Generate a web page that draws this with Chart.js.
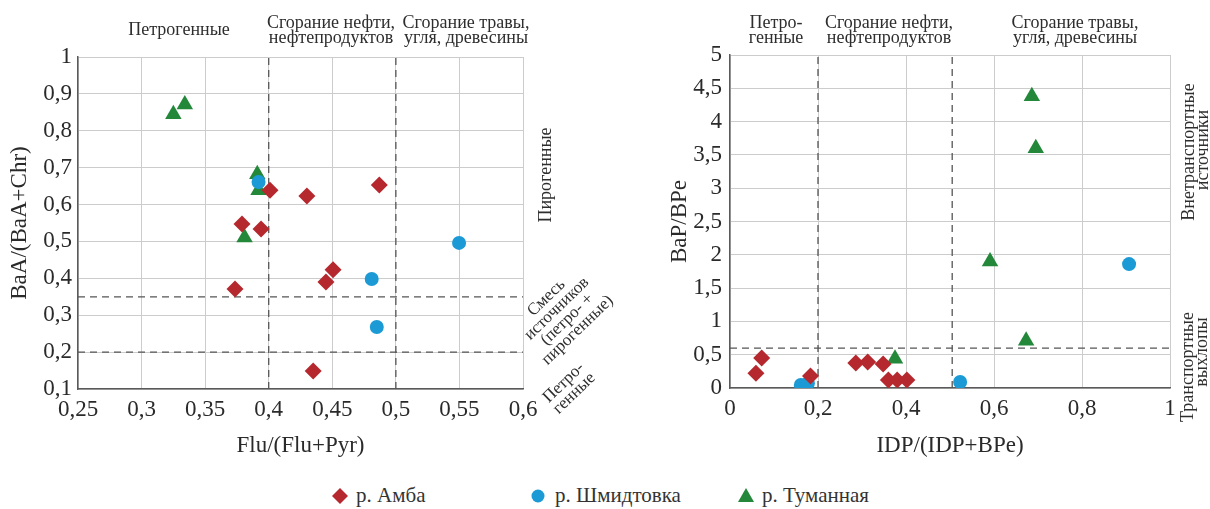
<!DOCTYPE html>
<html>
<head>
<meta charset="utf-8">
<script src="https://cdn.jsdelivr.net/npm/chart.js@4.4.1/dist/chart.umd.min.js"></script>
<style>
html,body{margin:0;padding:0;background:#fff;width:1210px;height:509px;overflow:hidden;font-family:"Liberation Serif",serif;}
#c1{position:absolute;left:0;top:0;z-index:2;}
#c2{position:absolute;left:600px;top:0;z-index:1;}
.lg{position:absolute;top:482px;height:26px;line-height:26px;font-size:21px;color:#333;white-space:nowrap;}
.lg svg{position:absolute;top:6px;}
.lg span{position:absolute;left:0;top:0;}
</style>
</head>
<body>
<canvas id="c1" width="640" height="470"></canvas>
<canvas id="c2" width="610" height="470"></canvas>
<div class="lg" style="left:332px;width:120px"><svg width="16" height="16" viewBox="0 0 16 16" style="left:0"><polygon points="8,0 16,8 8,16 0,8" fill="#b5282e"/></svg><span style="left:24px">р. Амба</span></div>
<div class="lg" style="left:531px;width:180px"><svg width="14" height="14" viewBox="0 0 14 14" style="left:0;top:7px"><circle cx="7" cy="7" r="6.5" fill="#1b9ad6"/></svg><span style="left:24px">р. Шмидтовка</span></div>
<div class="lg" style="left:738px;width:160px"><svg width="16" height="14" viewBox="0 0 16 14" style="left:0;top:6px"><polygon points="8,0 16,14 0,14" fill="#23883a"/></svg><span style="left:24px">р. Туманная</span></div>
<script>
// ---------- DATA ----------
// Left chart: Flu/(Flu+Pyr) vs BaA/(BaA+Chr)
const ambaLeftX   = [0.401, 0.430, 0.487, 0.379, 0.394, 0.3735, 0.4506, 0.445, 0.435];
const ambaLeftY   = [0.639, 0.623, 0.653, 0.547, 0.534, 0.371, 0.423, 0.390, 0.149];
const shmidtLeftX = [0.392, 0.5497, 0.481, 0.485];
const shmidtLeftY = [0.661, 0.496, 0.398, 0.268];
const tumanLeftX  = [0.325, 0.334, 0.391, 0.392, 0.381];
const tumanLeftY  = [0.845, 0.871, 0.682, 0.639, 0.511];
const leftVLines  = [0.4, 0.5];
const leftHLines  = [0.2, 0.35];
const leftXTicks  = [0.25, 0.6, 0.05]; // min, max, step
const leftYTicks  = [0.1, 1, 0.1];

// Right chart: IDP/(IDP+BPe) vs BaP/BPe
const ambaRightX   = [0.059, 0.072, 0.183, 0.286, 0.313, 0.348, 0.360, 0.380, 0.402];
const ambaRightY   = [0.22, 0.45, 0.18, 0.375, 0.39, 0.36, 0.12, 0.12, 0.12];
const shmidtRightX = [0.161, 0.177, 0.523, 0.907];
const shmidtRightY = [0.045, 0.07, 0.09, 1.86];
const tumanRightX  = [0.375, 0.591, 0.673, 0.686, 0.695];
const tumanRightY  = [0.44, 1.90, 0.71, 4.38, 3.60];
const rightVLines  = [0.2, 0.505];
const rightHLines  = [0.6];
const rightXTicks  = [0, 1, 0.2];
const rightYTicks  = [0, 5, 0.5];

const seriesNames = ['р. Амба', 'р. Шмидтовка', 'р. Туманная'];

// ---------- HELPERS ----------
const RED = '#b5282e', BLUE = '#1b9ad6', GREEN = '#23883a';
const FONT = '"Liberation Serif", "Times New Roman", serif';
const zip = (xs, ys) => xs.map((x, i) => ({x: x, y: ys[i]}));
const fmt = v => String(Math.round(v * 100) / 100).replace('.', ',');

function datasets(ax, ay, sx, sy, tx, ty) {
  return [
    {label: seriesNames[0], data: zip(ax, ay), pointStyle: 'rectRot', pointRadius: 8.5, backgroundColor: RED, borderWidth: 0},
    {label: seriesNames[1], data: zip(sx, sy), pointStyle: 'circle', pointRadius: 7, backgroundColor: BLUE, borderWidth: 0},
    {label: seriesNames[2], data: zip(tx, ty), pointStyle: 'triangle', pointRadius: 9.5, backgroundColor: GREEN, borderWidth: 0}
  ];
}

function scales(xt, yt, xTitle, yTitle, yWidth, xHeight, yTitlePad, yTickPad) {
  return {
    x: {
      type: 'linear', min: xt[0], max: xt[1],
      ticks: {stepSize: xt[2], callback: fmt, color: '#2a2a2a', padding: 7, font: {family: FONT, size: 23}, maxRotation: 0},
      grid: {color: '#cccccc', lineWidth: 1, drawTicks: false},
      border: {display: true, color: '#5a5a5a', width: 1.5},
      title: {display: true, text: xTitle, color: '#2a2a2a', font: {family: FONT, size: 23}, padding: {top: 0, bottom: 10}},
      afterFit: s => { s.height = xHeight; }
    },
    y: {
      type: 'linear', min: yt[0], max: yt[1],
      ticks: {stepSize: yt[2], callback: fmt, color: '#2a2a2a', padding: yTickPad, font: {family: FONT, size: 23}},
      grid: {color: '#cccccc', lineWidth: 1, drawTicks: false},
      border: {display: true, color: '#5a5a5a', width: 1.5},
      title: {display: true, text: yTitle, color: '#2a2a2a', font: {family: FONT, size: 23}, padding: {top: yTitlePad, bottom: 0}},
      afterFit: s => { s.width = yWidth; }
    }
  };
}

function dashPlugin(vLines, hLines) {
  return {
    id: 'dash',
    beforeDatasetsDraw(chart) {
      const {ctx, chartArea: a, scales: {x, y}} = chart;
      ctx.save();
      ctx.strokeStyle = '#555';
      ctx.lineWidth = 1.3;
      ctx.setLineDash([7, 5]);
      vLines.forEach(v => { const px = x.getPixelForValue(v); ctx.beginPath(); ctx.moveTo(px, a.bottom); ctx.lineTo(px, a.top); ctx.stroke(); });
      hLines.forEach(v => { const py = y.getPixelForValue(v); ctx.beginPath(); ctx.moveTo(a.left, py); ctx.lineTo(a.right, py); ctx.stroke(); });
      ctx.restore();
    }
  };
}

function textPlugin(items) {
  return {
    id: 'notes',
    afterDraw(chart) {
      const ctx = chart.ctx;
      ctx.save();
      ctx.fillStyle = '#2e2e2e';
      ctx.textAlign = 'center';
      ctx.textBaseline = 'middle';
      items.forEach(it => {
        ctx.save();
        ctx.font = (it.size || 18) + 'px ' + FONT;
        ctx.translate(it.x, it.y);
        ctx.rotate((it.rot || 0) * Math.PI / 180);
        const lh = it.lh || 15;
        const n = it.lines.length;
        it.lines.forEach((t, i) => ctx.fillText(t, 0, (i - (n - 1) / 2) * lh));
        ctx.restore();
      });
      ctx.restore();
    }
  };
}

Chart.defaults.font.family = FONT;
Chart.defaults.animation = false;

// ---------- LEFT CHART ----------
new Chart(document.getElementById('c1'), {
  type: 'scatter',
  data: {datasets: datasets(ambaLeftX, ambaLeftY, shmidtLeftX, shmidtLeftY, tumanLeftX, tumanLeftY)},
  options: {
    responsive: false, animation: false,
    layout: {padding: {left: 0, top: 57, right: 117, bottom: 0}},
    plugins: {legend: {display: false}, tooltip: {enabled: false}},
    scales: scales(leftXTicks, leftYTicks, 'Flu/(Flu+Pyr)', 'BaA/(BaA+Chr)', 78, 81, 6, 6)
  },
  plugins: [dashPlugin(leftVLines, leftHLines), textPlugin([
    {lines: ['Петрогенные'], x: 179, y: 30},
    {lines: ['Сгорание нефти,', 'нефтепродуктов'], x: 331, y: 31},
    {lines: ['Сгорание травы,', 'угля, древесины'], x: 466, y: 31},
    {lines: ['Пирогенные'], x: 546, y: 175, rot: -90},
    {lines: ['Смесь', 'источников', '(петро- +', 'пирогенные)'], x: 562, y: 314, rot: -44, lh: 15, size: 17},
    {lines: ['Петро-', 'генные'], x: 569, y: 388, rot: -44, lh: 15, size: 17}
  ])]
});

// ---------- RIGHT CHART ----------
new Chart(document.getElementById('c2'), {
  type: 'scatter',
  data: {datasets: datasets(ambaRightX, ambaRightY, shmidtRightX, shmidtRightY, tumanRightX, tumanRightY)},
  options: {
    responsive: false, animation: false,
    layout: {padding: {left: 0, top: 55, right: 40, bottom: 0}},
    plugins: {legend: {display: false}, tooltip: {enabled: false}},
    scales: scales(rightXTicks, rightYTicks, 'IDP/(IDP+BPe)', 'BaP/BPe', 130, 82, 66, 8)
  },
  plugins: [dashPlugin(rightVLines, rightHLines), textPlugin([
    {lines: ['Петро-', 'генные'], x: 176, y: 31},
    {lines: ['Сгорание нефти,', 'нефтепродуктов'], x: 289, y: 31},
    {lines: ['Сгорание травы,', 'угля, древесины'], x: 475, y: 31},
    {lines: ['Внетранспортные'], x: 589, y: 152, rot: -90},
    {lines: ['источники'], x: 603, y: 150, rot: -90},
    {lines: ['Транспортные'], x: 588, y: 367, rot: -90},
    {lines: ['выхлопы'], x: 602, y: 352, rot: -90}
  ])]
});
</script>
</body>
</html>
